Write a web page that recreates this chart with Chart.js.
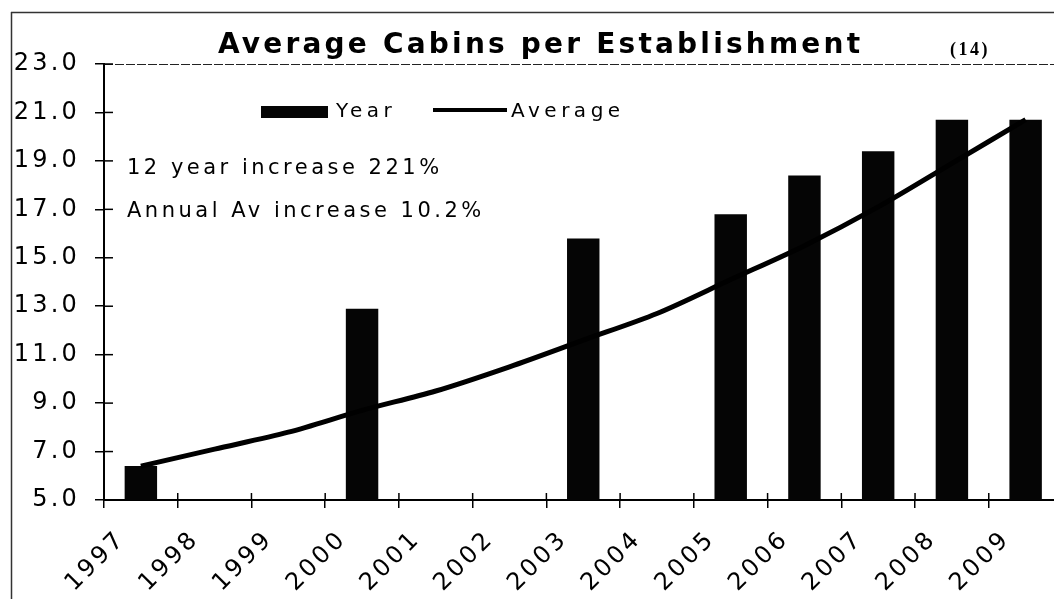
<!DOCTYPE html>
<html><head><meta charset="utf-8">
<script src="https://cdn.jsdelivr.net/npm/chart.js@4.4.1/dist/chart.umd.min.js"></script>
<style>html,body{margin:0;padding:0;overflow:hidden;background:#fff;width:1054px;height:599px}canvas{display:block}</style>
</head><body><canvas id="c" width="1063" height="599"></canvas>
<script>
const categories = ['1997','1998','1999','2000','2001','2002','2003','2004','2005','2006','2007','2008','2009'];
const yearValues = [6.4, null, null, 12.9, null, null, 15.8, null, 16.8, 18.4, 19.4, 20.7, 20.7];
const averageValues = [6.4, 7.1, 7.8, 8.7, 9.5, 10.5, 11.6, 12.7, 14.1, 15.5, 17.1, 18.9, 20.7];
const yMin = 5, yMax = 23, yStep = 2;
const titleText = 'Average Cabins per Establishment';
const noteText = '(14)';
const annotationLines = ['12 year increase 221%', 'Annual Av increase 10.2%'];
const FONT = '"DejaVu Sans", "Liberation Sans", Arial, sans-serif';

const spacingPlugin = {
  id: 'spacing',
  beforeDraw(chart) { chart.ctx.letterSpacing = '3.2px'; },
  beforeDatasetsDraw(chart) { chart.ctx.letterSpacing = '0px'; }
};

const decorPlugin = {
  id: 'decor',
  afterDraw(chart) {
    const ctx = chart.ctx, a = chart.chartArea;
    const xs = chart.scales.x, ys = chart.scales.y;
    ctx.save();
    ctx.letterSpacing = '0px';
    // outer frame
    ctx.strokeStyle = '#333'; ctx.lineWidth = 1.5;
    ctx.beginPath();
    ctx.moveTo(11.5, 12); ctx.lineTo(11.5, 599);
    ctx.moveTo(11, 12.5); ctx.lineTo(1063, 12.5);
    ctx.stroke();
    // plot top border
    ctx.strokeStyle = '#222'; ctx.lineWidth = 1.2;
    ctx.setLineDash([9, 2]);
    ctx.beginPath(); ctx.moveTo(a.left, a.top + 0.5); ctx.lineTo(a.right, a.top + 0.5); ctx.stroke();
    ctx.setLineDash([]);
    // inner tick marks
    ctx.strokeStyle = '#000'; ctx.lineWidth = 1.5;
    ys.ticks.forEach(t => {
      const y = ys.getPixelForValue(t.value);
      ctx.beginPath(); ctx.moveTo(a.left, y); ctx.lineTo(a.left + 9, y); ctx.stroke();
    });
    for (let i = 0; i <= categories.length; i++) {
      const x = xs.getPixelForValue(i - 0.5);
      ctx.beginPath(); ctx.moveTo(x, a.bottom); ctx.lineTo(x, a.bottom - 7); ctx.stroke();
    }
    // title
    ctx.fillStyle = '#000';
    ctx.textAlign = 'left'; ctx.textBaseline = 'alphabetic';
    ctx.font = 'bold 28px ' + FONT;
    ctx.letterSpacing = '3.2px';
    ctx.fillText(titleText, 218, 53);
    ctx.font = 'bold 18px "Liberation Serif", "Times New Roman", serif';
    ctx.letterSpacing = '2.5px';
    ctx.fillText(noteText, 950, 55);
    // legend
    const ds = chart.data.datasets;
    ctx.font = '20px ' + FONT;
    ctx.letterSpacing = '4.5px';
    ctx.fillStyle = ds[0].backgroundColor;
    ctx.fillRect(261, 106, 67, 12);
    ctx.fillStyle = '#000';
    ctx.fillText(ds[0].label, 336, 117);
    ctx.strokeStyle = ds[1].borderColor; ctx.lineWidth = 4;
    ctx.beginPath(); ctx.moveTo(433, 110); ctx.lineTo(507, 110); ctx.stroke();
    ctx.fillText(ds[1].label, 511, 117);
    // annotations
    ctx.font = '21px ' + FONT;
    ctx.letterSpacing = '3.5px';
    ctx.fillText(annotationLines[0], 127, 174);
    ctx.fillText(annotationLines[1], 127, 217);
    ctx.restore();
  }
};

new Chart(document.getElementById('c'), {
  data: {
    labels: categories,
    datasets: [
      { type: 'bar', label: 'Year', data: yearValues, backgroundColor: '#050505', borderWidth: 0,
        barPercentage: 0.44, categoryPercentage: 1.0, order: 2 },
      { type: 'line', label: 'Average', data: averageValues, borderColor: '#000', borderWidth: 5,
        pointRadius: 0, tension: 0.3, fill: false, order: 1 }
    ]
  },
  options: {
    responsive: false, animation: false, devicePixelRatio: 1,
    layout: { padding: { left: 0, right: 0, top: 64, bottom: 0 } },
    plugins: { legend: { display: false }, title: { display: false }, tooltip: { enabled: false } },
    scales: {
      x: {
        type: 'category', offset: true,
        grid: { offset: true, drawOnChartArea: false, drawTicks: true, tickLength: 8, color: '#000', lineWidth: 1.5 },
        border: { display: true, color: '#000', width: 2 },
        ticks: { autoSkip: false, maxRotation: 45, minRotation: 45, labelOffset: -19, padding: 17,
          color: '#000', font: { family: FONT, size: 24 } },
        afterFit(s) { s.height = 99; }
      },
      y: {
        type: 'linear', min: yMin, max: yMax,
        grid: { drawOnChartArea: false, drawTicks: true, tickLength: 9, color: '#000', lineWidth: 1.5 },
        border: { display: true, color: '#000', width: 2 },
        ticks: { stepSize: yStep, padding: 15, color: '#000', font: { family: FONT, size: 24 },
          callback: v => Number(v).toFixed(1) },
        afterFit(s) { s.width = 104; }
      }
    }
  },
  plugins: [spacingPlugin, decorPlugin]
});
</script></body></html>
